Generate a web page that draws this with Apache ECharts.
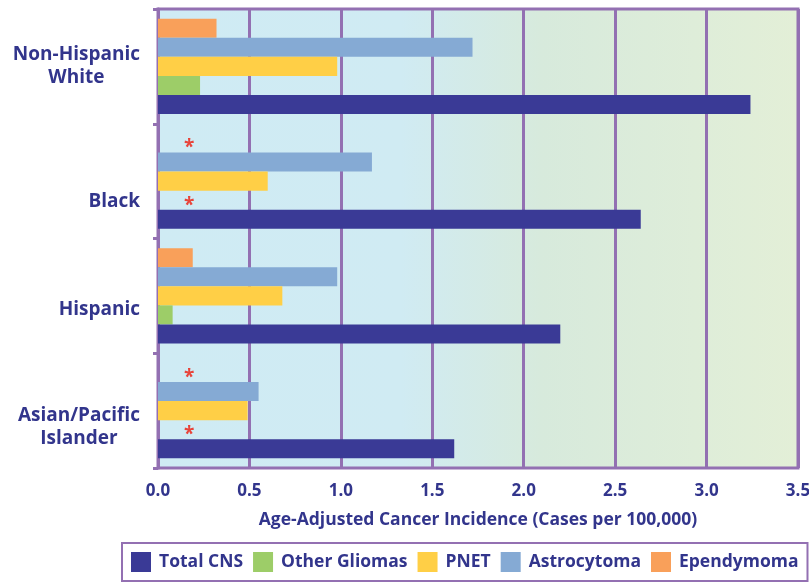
<!DOCTYPE html>
<html>
<head>
<meta charset="utf-8">
<script src="https://cdn.jsdelivr.net/npm/echarts@6/dist/echarts.min.js"></script>
<style>
  html, body { margin: 0; padding: 0; background: #ffffff; }
  #chart { width: 809px; height: 584px; }
</style>
</head>
<body>
<div id="chart"></div>
<script>
// Brain and CNS tumour incidence by race/ethnicity (cases per 100,000)
const categories = ['Non-Hispanic\nWhite', 'Black', 'Hispanic', 'Asian/Pacific\nIslander'];
const seriesNames = ['Total CNS', 'Other Gliomas', 'PNET', 'Astrocytoma', 'Ependymoma'];
// null = rate suppressed (shown as an asterisk)
const totalCNS = [3.24, 2.64, 2.20, 1.62];
const otherGliomas = [0.23, null, 0.08, null];
const pnet = [0.98, 0.60, 0.68, 0.49];
const astrocytoma = [1.72, 1.17, 0.98, 0.55];
const ependymoma = [0.32, null, 0.19, null];
const xTickMin = 0;
const xTickMax = 3.5;
const xTickStep = 0.5;
const xAxisTitle = 'Age-Adjusted Cancer Incidence (Cases per 100,000)';

const seriesValues = [totalCNS, otherGliomas, pnet, astrocytoma, ependymoma];
const seriesColors = ['#3a3a96', '#9dcd68', '#ffcf46', '#85aad4', '#f9a05a'];

const navy = '#32358c';
const purple = '#9370b2';
const font = 'Open Sans';

// vertical nudges of the category labels, in px
const labelShift = [0, 20, 14, 16];

const chart = echarts.init(document.getElementById('chart'), null, { renderer: 'canvas' });

function buildItems(values) {
  return values.map(function (v) {
    if (v === null) {
      return {
        value: 0,
        label: {
          show: true,
          formatter: '*',
          position: 'right',
          distance: 26,
          offset: [0, 5],
          color: '#e8443a',
          fontFamily: font,
          fontWeight: 'bold',
          fontSize: 19
        }
      };
    }
    return v;
  });
}

// With the inverted category axis the bars stack top-down in series order,
// so the series are added last-to-first to keep Total CNS at the bottom.
const series = seriesNames.map(function (name, i) {
  return {
    name: name,
    type: 'bar',
    data: buildItems(seriesValues[i]),
    barGap: '0%',
    barCategoryGap: '17%',
    itemStyle: { color: seriesColors[i] },
    z: 3
  };
}).reverse();

const option = {
  animation: false,
  backgroundColor: '#ffffff',
  grid: {
    left: 158,
    right: 11,
    top: 9,
    bottom: 116,
    outerBoundsMode: 'none',
    show: true,
    borderColor: purple,
    borderWidth: 3,
    backgroundColor: new echarts.graphic.LinearGradient(0, 0, 1, 0, [
      { offset: 0, color: '#cfebf4' },
      { offset: 0.38, color: '#d0ebf3' },
      { offset: 0.6, color: '#d7eadc' },
      { offset: 1, color: '#e3efd7' }
    ])
  },
  xAxis: {
    type: 'value',
    min: xTickMin,
    max: xTickMax,
    interval: xTickStep,
    name: xAxisTitle,
    nameLocation: 'middle',
    nameGap: 43,
    nameTextStyle: { color: navy, fontFamily: font, fontWeight: 'bold', fontSize: 17.5 },
    axisLine: { show: false },
    axisTick: { show: false },
    axisLabel: {
      margin: 15,
      color: navy,
      fontFamily: font,
      fontWeight: 'bold',
      fontSize: 17,
      formatter: function (v) { return v.toFixed(1); }
    },
    splitLine: { show: true, lineStyle: { color: purple, width: 3 } }
  },
  yAxis: {
    type: 'category',
    inverse: true,
    data: categories.map(function (c, i) {
      return { value: c, textStyle: { padding: [labelShift[i] * 2, 0, 0, 0] } };
    }),
    axisLine: { show: true, lineStyle: { color: purple, width: 3 } },
    axisTick: { show: true, length: 5, lineStyle: { color: purple, width: 3 } },
    axisLabel: {
      margin: 18,
      align: 'right',
      formatter: function (v) {
        return v.split('\n').map(function (s) { return '{c|' + s + '}'; }).join('\n');
      },
      rich: {
        c: {
          align: 'center',
          color: navy,
          fontFamily: font,
          fontWeight: 'bold',
          fontSize: 19,
          lineHeight: 23
        }
      }
    },
    splitLine: { show: false }
  },
  legend: {
    data: seriesNames,
    left: 122,
    top: 543,
    orient: 'horizontal',
    icon: 'rect',
    itemWidth: 20,
    itemHeight: 20,
    itemGap: 10,
    padding: [9, 9, 9, 9],
    borderColor: purple,
    borderWidth: 2,
    textStyle: {
      color: navy,
      fontFamily: font,
      fontWeight: 'bold',
      fontSize: 17.5,
      padding: [0, 0, 0, 3]
    }
  },
  series: series
};

chart.setOption(option);
</script>
</body>
</html>
